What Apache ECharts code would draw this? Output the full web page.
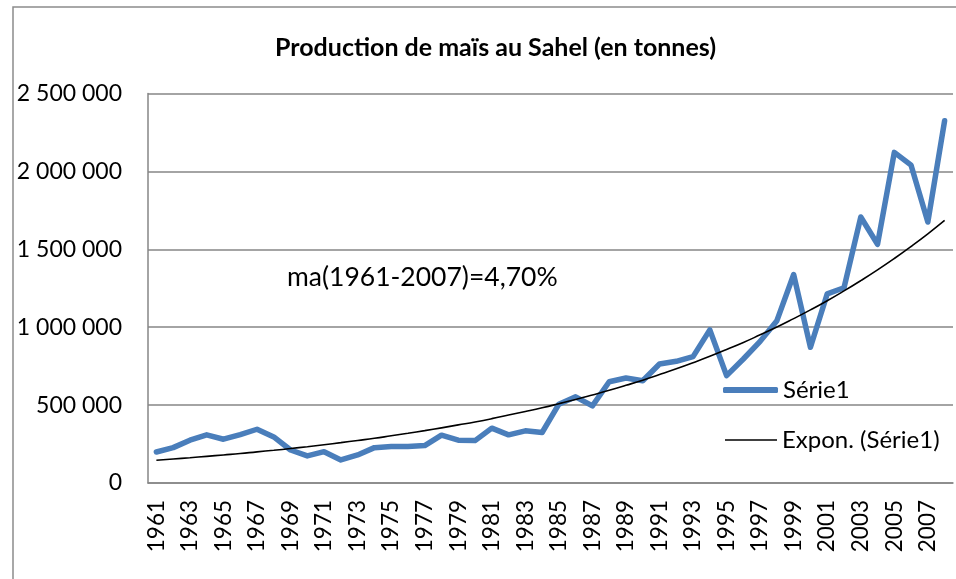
<!DOCTYPE html>
<html>
<head>
<meta charset="utf-8">
<script src="https://cdn.jsdelivr.net/npm/echarts@6/dist/echarts.min.js"></script>
<style>
  html, body { margin: 0; padding: 0; background: #fff; }
  #chart { width: 956px; height: 579px; }
</style>
</head>
<body>
<div id="chart"></div>
<script>
const years = [
  '1961', '1962', '1963', '1964', '1965', '1966', '1967', '1968', '1969', '1970',
  '1971', '1972', '1973', '1974', '1975', '1976', '1977', '1978', '1979', '1980',
  '1981', '1982', '1983', '1984', '1985', '1986', '1987', '1988', '1989', '1990',
  '1991', '1992', '1993', '1994', '1995', '1996', '1997', '1998', '1999', '2000',
  '2001', '2002', '2003', '2004', '2005', '2006', '2007', '2008'
]

// production (tonnes)
const production = [
  199000, 227000, 275000, 309000, 281000, 311000, 345000, 296000, 212000, 174000,
  201000, 148000, 180000, 227000, 234000, 234000, 240000, 307000, 275000, 272000,
  352000, 309000, 335000, 324000, 506000, 553000, 495000, 650000, 674000, 656000,
  764000, 781000, 811000, 983000, 689000, 796000, 909000, 1042000, 1338000, 871000,
  1214000, 1253000, 1707000, 1532000, 2122000, 2040000, 1675000, 2325000
]

// exponential trend line
const trend = [
  146000, 154000, 162000, 171000, 180000, 189000, 200000, 210000, 221000, 233000,
  246000, 259000, 273000, 287000, 303000, 319000, 336000, 354000, 373000, 392000,
  413000, 436000, 459000, 483000, 509000, 536000, 565000, 595000, 627000, 660000,
  696000, 733000, 772000, 813000, 857000, 902000, 951000, 1001000, 1055000, 1111000,
  1170000, 1233000, 1299000, 1368000, 1441000, 1518000, 1599000, 1685000
]

const yTicks = [0, 500000, 1000000, 1500000, 2000000, 2500000]

const titleText = 'Production de maïs au Sahel (en tonnes)'
const noteText = 'ma(1961-2007)=4,70%'

const font = 'Lato, "Liberation Sans", sans-serif'
const gray = '#868686'
const blue = '#4a7ebb'

const chart = echarts.init(document.getElementById('chart'))

const fmt = v => String(v).replace(/\B(?=(\d{3})+(?!\d))/g, ' ')

chart.setOption({
  animation: false,
  textStyle: { fontFamily: font },
  title: {
    text: titleText,
    left: 270,
    top: 30,
    textStyle: { fontSize: 25, fontWeight: 'bold', color: '#000', fontFamily: font }
  },
  legend: [
    {
      left: 718,
      top: 373,
      icon: 'roundRect',
      itemWidth: 55,
      itemHeight: 6,
      textStyle: { fontSize: 24, color: '#000', fontFamily: font },
      data: ['Série1']
    },
    {
      left: 720,
      top: 423,
      icon: 'rect',
      itemWidth: 52,
      itemHeight: 1.6,
      textStyle: { fontSize: 24, color: '#000', fontFamily: font },
      data: ['Expon. (Série1)']
    }
  ],
  grid: { left: 148, right: 3, top: 93.5, bottom: 96 },
  xAxis: {
    type: 'category',
    data: years,
    boundaryGap: true,
    axisLine: { lineStyle: { color: gray, width: 1.5 } },
    axisTick: { show: false },
    axisLabel: {
      interval: 1,
      rotate: 90,
      margin: 17,
      fontSize: 22.5,
      color: '#000',
      fontFamily: font
    }
  },
  yAxis: {
    type: 'value',
    min: yTicks[0],
    max: yTicks[yTicks.length - 1],
    interval: yTicks[1] - yTicks[0],
    axisLine: { show: true, lineStyle: { color: gray, width: 1.5 } },
    axisTick: { show: false },
    splitLine: { lineStyle: { color: gray, width: 1.5 } },
    axisLabel: {
      margin: 26,
      fontSize: 23,
      color: '#000',
      fontFamily: font,
      formatter: fmt
    }
  },
  graphic: [
    {
      type: 'polyline',
      shape: { points: [[13, 590], [13, 7], [970, 7]] },
      style: { stroke: '#8c8c8c', lineWidth: 1.5, fill: null },
      silent: true
    },
    {
      type: 'text',
      left: 287,
      top: 264,
      style: { text: noteText, fontSize: 26.5, fill: '#000', fontFamily: font }
    }
  ],
  series: [
    {
      name: 'Série1',
      type: 'line',
      data: production,
      symbol: 'none',
      lineStyle: { color: blue, width: 5.5, join: 'round', cap: 'round' },
      itemStyle: { color: blue },
      z: 2
    },
    {
      name: 'Expon. (Série1)',
      type: 'line',
      data: trend,
      symbol: 'none',
      smooth: true,
      lineStyle: { color: '#000', width: 1.6 },
      itemStyle: { color: '#000' },
      z: 3
    }
  ]
})
</script>
</body>
</html>
